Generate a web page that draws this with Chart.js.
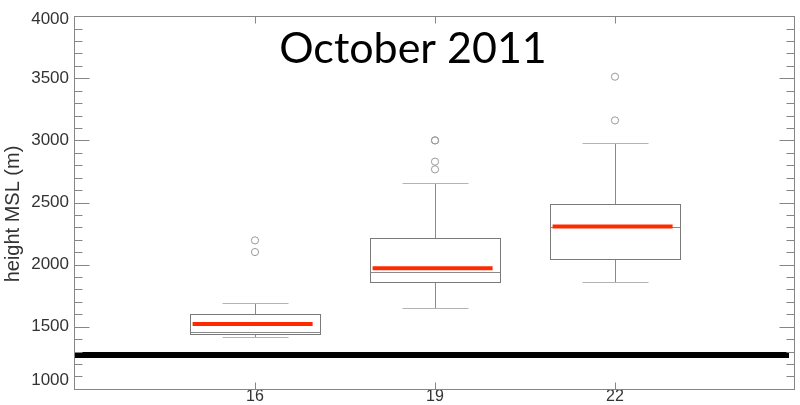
<!DOCTYPE html>
<html>
<head>
<meta charset="utf-8">
<script src="https://cdn.jsdelivr.net/npm/chart.js@4/dist/chart.umd.min.js"></script>
<style>
  html, body { margin: 0; padding: 0; background: #fff; }
  #wrap { width: 800px; height: 405px; position: relative; }
</style>
</head>
<body>
<div id="wrap"><canvas id="c"></canvas></div>
<script>
// Day of month for each sounding group
const days = [16, 19, 22];
// Box-and-whisker statistics of height MSL (m)
const whiskerLow  = [1420, 1647, 1860];
const quartile1   = [1441, 1860, 2044];
const median      = [1461, 1943, 2300];
const quartile3   = [1606, 2218, 2484];
const whiskerHigh = [1694, 2658, 2976];
const meanHeight  = [1521, 1971, 2306];
// Individual outliers
const outlierDay    = [16, 16, 19, 19, 19, 19, 22, 22];
const outlierHeight = [2101, 2195, 2767, 2829, 3000, 3000, 3161, 3513];
// Reference ground level (m)
const groundHeight = 1272;
// Axis ticks
const xTickValues = [16, 19, 22];
const yTickValues = [1000, 1500, 2000, 2500, 3000, 3500, 4000];
const yMinorStep = 100;
const yAxisTitle = 'height MSL (m)';
const panelTitle = 'October 2011';

const BOX_HALF = 1.085;   // half box width, in days
const CAP_HALF = 0.55;    // half whisker-cap width, in days
const MEAN_LEFT = 1.04, MEAN_RIGHT = 0.96;

const snap = v => Math.round(v) + 0.5;

function seg(ctx, x1, y1, x2, y2) {
  ctx.beginPath(); ctx.moveTo(x1, y1); ctx.lineTo(x2, y2); ctx.stroke();
}

const boxLayer = {
  id: 'boxLayer',
  beforeDraw(chart) {
    // nudge the end labels of the height axis inside the frame
    const ys = chart.scales.y;
    const items = ys.getLabelItems();
    if (!items._nudged && items.length) {
      items[0].options.translation[1] -= 8;
      items[items.length - 1].options.translation[1] += 3;
      items._nudged = true;
    }
  },
  beforeDatasetsDraw(chart) {
    const { ctx, scales: { x, y } } = chart;
    ctx.save();
    ctx.lineWidth = 1;
    days.forEach((d, i) => {
      const xc = snap(x.getPixelForValue(d));
      const xl = snap(x.getPixelForValue(d - BOX_HALF));
      const xr = snap(x.getPixelForValue(d + BOX_HALF));
      const cl = snap(x.getPixelForValue(d - CAP_HALF));
      const cr = snap(x.getPixelForValue(d + CAP_HALF));
      const yLo = snap(y.getPixelForValue(whiskerLow[i]));
      const yQ1 = snap(y.getPixelForValue(quartile1[i]));
      const yMd = snap(y.getPixelForValue(median[i]));
      const yQ3 = snap(y.getPixelForValue(quartile3[i]));
      const yHi = snap(y.getPixelForValue(whiskerHigh[i]));
      ctx.strokeStyle = '#8a8a8a';
      seg(ctx, xc, yQ3, xc, yHi);
      seg(ctx, xc, yQ1, xc, yLo);
      ctx.strokeStyle = '#b4b4b4';
      seg(ctx, cl, yHi, cr, yHi);
      seg(ctx, cl, yLo, cr, yLo);
      ctx.strokeStyle = '#7a7a7a';
      ctx.strokeRect(xl, yQ3, xr - xl, yQ1 - yQ3);
      ctx.strokeStyle = '#8a8a8a';
      seg(ctx, xl, yMd, xr, yMd);
    });
    ctx.restore();
  },
  afterDatasetsDraw(chart) {
    const { ctx, scales: { x, y } } = chart;
    ctx.save();
    ctx.strokeStyle = '#ff2a00';
    ctx.lineWidth = 4;
    days.forEach((d, i) => {
      const ym = y.getPixelForValue(meanHeight[i]);
      seg(ctx, x.getPixelForValue(d - MEAN_LEFT), ym, x.getPixelForValue(d + MEAN_RIGHT), ym);
    });
    ctx.restore();
  },
  afterDraw(chart) {
    const { ctx, chartArea: a, scales: { x, y } } = chart;
    ctx.save();
    ctx.strokeStyle = '#858585';
    ctx.lineWidth = 1;
    const L = Math.round(a.left) - 0.5, R = Math.round(a.right) - 0.5;
    const T = Math.round(a.top) + 0.5, B = Math.round(a.bottom) + 0.5;
    ctx.strokeRect(L, T, R - L, B - T);
    // height ticks on both sides, pointing inward
    for (let v = y.min; v <= y.max; v += yMinorStep) {
      const yy = snap(y.getPixelForValue(v));
      const len = (v % 500 === 0) ? 15 : 8;
      seg(ctx, L, yy, L + len, yy);
      seg(ctx, R, yy, R - len, yy);
    }
    // day ticks top and bottom
    xTickValues.forEach(d => {
      const xx = snap(x.getPixelForValue(d));
      seg(ctx, xx, B, xx, B - 7);
      seg(ctx, xx, T, xx, T + 7);
    });
    // vertical axis title
    ctx.fillStyle = '#333';
    ctx.font = '20px "Liberation Sans"';
    ctx.textAlign = 'center';
    ctx.textBaseline = 'middle';
    ctx.save();
    ctx.translate(13, 214);
    ctx.rotate(-Math.PI / 2);
    ctx.fillText(yAxisTitle, 0, 0);
    ctx.restore();
    // panel title
    ctx.fillStyle = '#000';
    ctx.font = '43px Lato';
    ctx.textAlign = 'center';
    ctx.textBaseline = 'alphabetic';
    ctx.fillText(panelTitle, 413, 63);
    ctx.restore();
  }
};

const outliers = outlierDay.map((d, i) => ({ x: d, y: outlierHeight[i] }));

new Chart(document.getElementById('c'), {
  type: 'scatter',
  data: {
    datasets: [
      {
        label: 'outliers',
        data: outliers,
        pointRadius: 3.6,
        pointStyle: 'circle',
        borderColor: '#9a9a9a',
        backgroundColor: 'rgba(0,0,0,0)',
        borderWidth: 1
      },
      {
        label: 'ground',
        type: 'line',
        data: [{ x: 13, y: groundHeight }, { x: 24.9, y: groundHeight }],
        borderColor: '#000',
        borderWidth: 6,
        pointRadius: 0,
        borderCapStyle: 'butt'
      }
    ]
  },
  options: {
    responsive: true,
    maintainAspectRatio: false,
    animation: false,
    devicePixelRatio: 1,
    layout: { padding: { top: 5, right: 1, left: 0, bottom: 0 } },
    plugins: { legend: { display: false }, tooltip: { enabled: false } },
    scales: {
      x: {
        type: 'linear',
        min: 13, max: 25,
        afterBuildTicks(s) { s.ticks = xTickValues.map(v => ({ value: v })); },
        afterFit(s) { s.height = 14; },
        grid: { display: false, drawTicks: false },
        border: { display: false },
        ticks: {
          font: { family: 'Liberation Sans', size: 16 },
          color: '#333',
          padding: -2,
          maxRotation: 0,
          autoSkip: false,
          callback: v => String(v)
        }
      },
      y: {
        type: 'linear',
        min: 1000, max: 4000,
        afterBuildTicks(s) { s.ticks = yTickValues.map(v => ({ value: v })); },
        afterFit(s) { s.width = 75; },
        grid: { display: false, drawTicks: false },
        border: { display: false },
        ticks: {
          font: { family: 'Liberation Sans', size: 17 },
          color: '#333',
          padding: 6,
          autoSkip: false,
          callback: v => String(v)
        }
      }
    }
  },
  plugins: [boxLayer]
});
</script>
</body>
</html>
